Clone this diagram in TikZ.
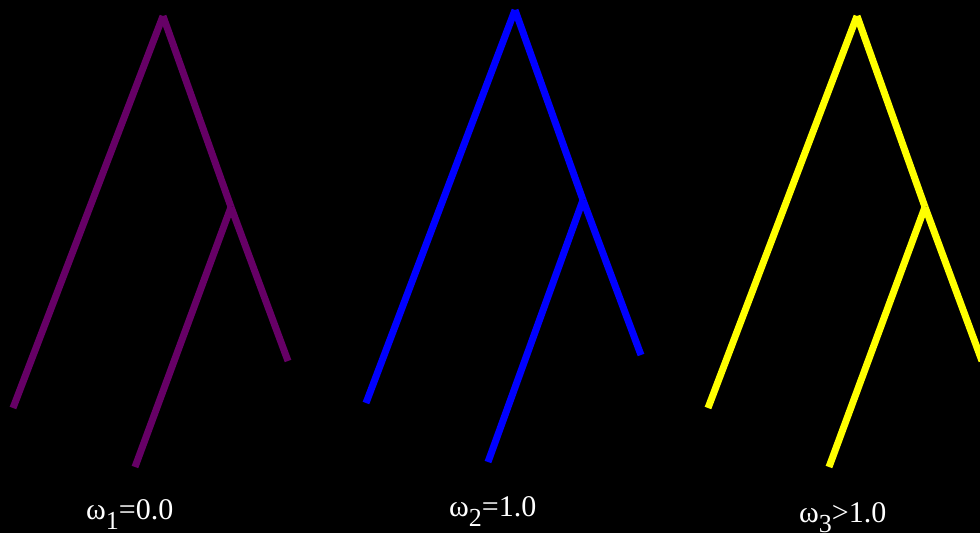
\documentclass[tikz,border=0pt]{standalone}
\usepackage{fontspec}
\setmainfont{Liberation Serif}
\usepackage{xcolor}
\definecolor{treepurple}{HTML}{660066}
\definecolor{treeblue}{HTML}{0000FF}
\definecolor{treeyellow}{HTML}{FFFF00}
\tikzset{
  branch/.style={line width=7pt, line cap=butt},
  omegalabel/.style={text=white, font=\fontsize{30}{36}\selectfont, anchor=base west, inner sep=0pt}
}
\newcommand{\lowsub}[1]{\raisebox{-10pt}{\fontsize{26}{30}\selectfont #1}}

\begin{document}
\begin{tikzpicture}[x=1pt, y=-1pt]
  \fill[black] (0,0) rectangle (980,533);
  \useasboundingbox (0,0) rectangle (980,533);
  \clip (0,0) rectangle (980,533);

  % tree 1
  \coordinate (rootA) at (163,16);
  \coordinate (innerA) at (231,207);
  \coordinate (leftA) at (13,408);
  \coordinate (rightA) at (288,361);
  \coordinate (lowA) at (135,467);
  \draw[branch, treepurple] (rootA) -- (leftA);
  \draw[branch, treepurple] (rootA) -- (innerA);
  \draw[branch, treepurple] (innerA) -- (rightA);
  \draw[branch, treepurple] (innerA) -- (lowA);
  \node[omegalabel] (omegaA) at (86,519) {ω\lowsub{1}=0.0};

  % tree 2
  \coordinate (rootB) at (515,10);
  \coordinate (innerB) at (583,200);
  \coordinate (leftB) at (366,403);
  \coordinate (rightB) at (641,355);
  \coordinate (lowB) at (488,462);
  \draw[branch, treeblue] (rootB) -- (leftB);
  \draw[branch, treeblue] (rootB) -- (innerB);
  \draw[branch, treeblue] (innerB) -- (rightB);
  \draw[branch, treeblue] (innerB) -- (lowB);
  \node[omegalabel] (omegaB) at (449,516) {ω\lowsub{2}=1.0};

  % tree 3, right leaf runs past the edge
  \coordinate (rootC) at (857,16);
  \coordinate (innerC) at (925,207);
  \coordinate (leftC) at (708,408);
  \coordinate (rightC) at (982,361);
  \coordinate (lowC) at (829,467);
  \draw[branch, treeyellow] (rootC) -- (leftC);
  \draw[branch, treeyellow] (rootC) -- (innerC);
  \draw[branch, treeyellow] (innerC) -- (rightC);
  \draw[branch, treeyellow] (innerC) -- (lowC);
  \node[omegalabel] (omegaC) at (799,522) {ω\lowsub{3}>1.0};
\end{tikzpicture}
\end{document}
